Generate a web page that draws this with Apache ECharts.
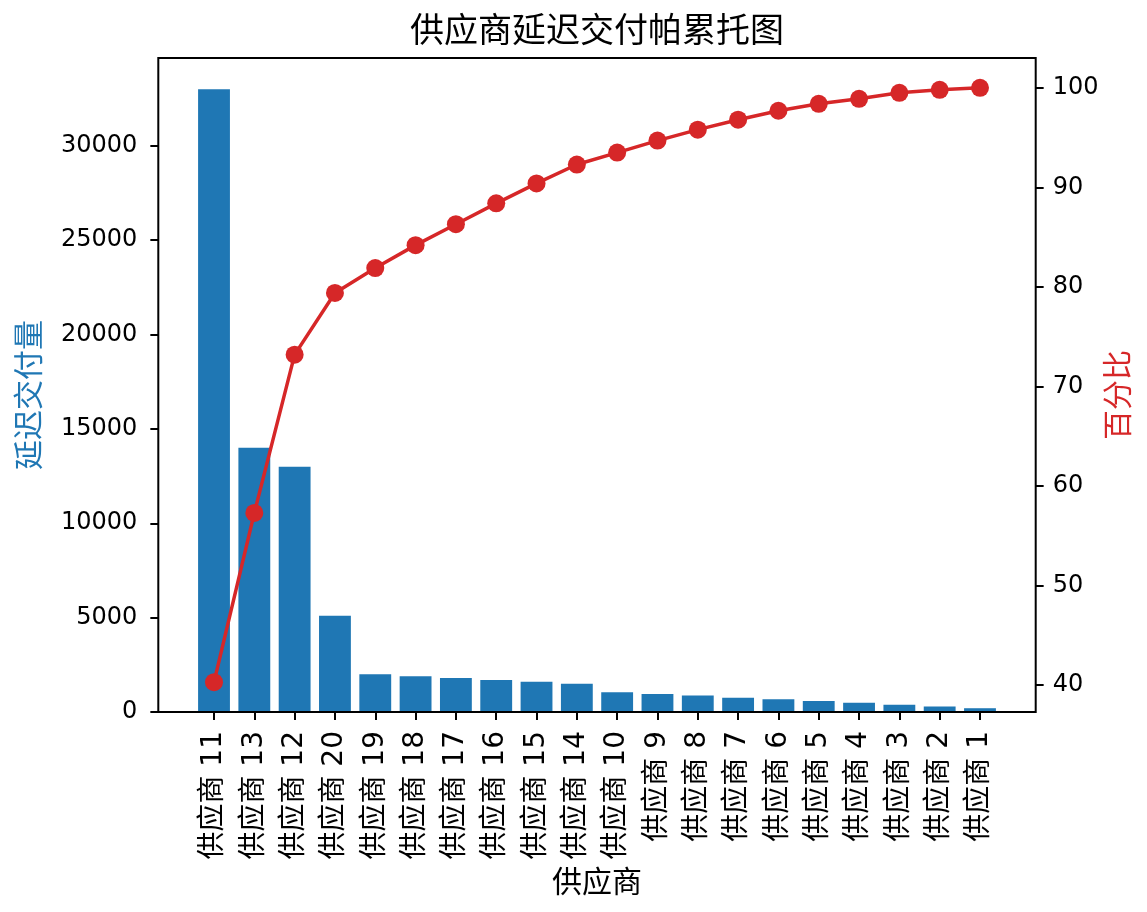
<!DOCTYPE html>
<html>
<head>
<meta charset="utf-8">
<title>供应商延迟交付帕累托图</title>
<script src="https://cdn.jsdelivr.net/npm/echarts@6/dist/echarts.min.js"></script>
<style>
    html, body {margin: 0; padding: 0; background: #fff;}
    #chart {width: 1147px; height: 912px;}
</style>
</head>
<body>
<div id="chart"></div>
<script>
// 供应商（按延迟交付量降序）
var suppliers = ['供应商 11', '供应商 13', '供应商 12', '供应商 20', '供应商 19', '供应商 18', '供应商 17',
    '供应商 16', '供应商 15', '供应商 14', '供应商 10', '供应商 9', '供应商 8', '供应商 7', '供应商 6',
    '供应商 5', '供应商 4', '供应商 3', '供应商 2', '供应商 1'];
// 延迟交付量
var delayQty = [33000, 14000, 13000, 5100, 2000, 1900, 1800, 1700, 1600, 1500,
    1050, 950, 870, 760, 680, 580, 490, 380, 290, 200];
// 累计百分比
var cumPercent = [40.3, 57.3, 73.2, 79.4, 81.9, 84.2, 86.3, 88.4, 90.4, 92.3,
    93.5, 94.7, 95.8, 96.8, 97.7, 98.4, 98.9, 99.5, 99.8, 100];
// 刻度
var qtyTicks = [0, 5000, 10000, 15000, 20000, 25000, 30000];
var pctTicks = [40, 50, 60, 70, 80, 90, 100];

var FONT = 'DejaVu Sans, Noto Sans CJK SC, sans-serif';
var BLUE = '#1f77b4';
var RED = '#d62728';

/***
 * 坐标轴标题（用graphic精确定位）
 */
function axisTitle(text, x, y, color, rotate) {
    return {
        type: 'text',
        x: x,
        y: y,
        rotation: rotate ? Math.PI / 2 : 0,
        style: {
            text: text,
            fill: color,
            font: '30px ' + FONT,
            align: 'center',
            verticalAlign: 'middle'
        }
    };
}

/***
 * 帕累托图配置
 */
function paretoOption() {
    return {
        animation: false,
        backgroundColor: '#fff',
        textStyle: {fontFamily: FONT},
        title: {
            text: '供应商延迟交付帕累托图',
            left: 592,
            top: 11,
            textAlign: 'center',
            textStyle: {fontFamily: FONT, fontSize: 34, fontWeight: 'normal', color: '#000'}
        },
        // 柱子所在区域，坐标轴框用graphic画
        grid: {left: 193.85, right: 146.85, top: 58, bottom: 200},
        graphic: [{
            type: 'rect',
            shape: {x: 158.3, y: 58, width: 877.4, height: 654},
            style: {fill: null, stroke: '#000', lineWidth: 2},
            z: 100
        },
            axisTitle('供应商', 597, 884, '#000', false),
            axisTitle('延迟交付量', 31.7, 395, BLUE, true),
            axisTitle('百分比', 1120.5, 395, RED, true)
        ],
        xAxis: [{
            type: 'category',
            data: suppliers,
            axisLine: {show: false},
            axisTick: {show: true, alignWithLabel: true, length: 8, lineStyle: {color: '#000', width: 2}},
            axisLabel: {interval: 0, rotate: 90, margin: 19, fontFamily: FONT, fontSize: 28, color: '#000'}
        }],
        yAxis: [{
            type: 'value',
            position: 'left',
            offset: 35.5,
            min: 0,
            max: 34650,
            interval: 5000,
            splitLine: {show: false},
            axisLine: {show: false},
            axisTick: {show: true, length: 8, customValues: qtyTicks, lineStyle: {color: '#000', width: 2}},
            axisLabel: {
                margin: 21, customValues: qtyTicks, fontFamily: FONT, fontSize: 24, color: '#000',
                formatter: function (v) { return String(v); }
            }
        }, {
            type: 'value',
            position: 'right',
            offset: 35.5,
            min: 37.3,
            max: 103.0,
            splitLine: {show: false},
            axisLine: {show: false},
            axisTick: {show: true, length: 8, customValues: pctTicks, lineStyle: {color: '#000', width: 2}},
            axisLabel: {
                margin: 17, customValues: pctTicks, fontFamily: FONT, fontSize: 24, color: '#000',
                formatter: function (v) { return String(v); }
            }
        }],
        series: [{
            name: '延迟交付量',
            type: 'bar',
            yAxisIndex: 0,
            barWidth: '79%',
            itemStyle: {color: BLUE},
            data: delayQty
        }, {
            name: '累计百分比',
            type: 'line',
            yAxisIndex: 1,
            symbol: 'circle',
            symbolSize: 18,
            lineStyle: {color: RED, width: 3.5},
            itemStyle: {color: RED},
            data: cumPercent,
            z: 5
        }]
    };
}

var myChart = echarts.init(document.getElementById('chart'));
myChart.setOption(paretoOption());
</script>
</body>
</html>
